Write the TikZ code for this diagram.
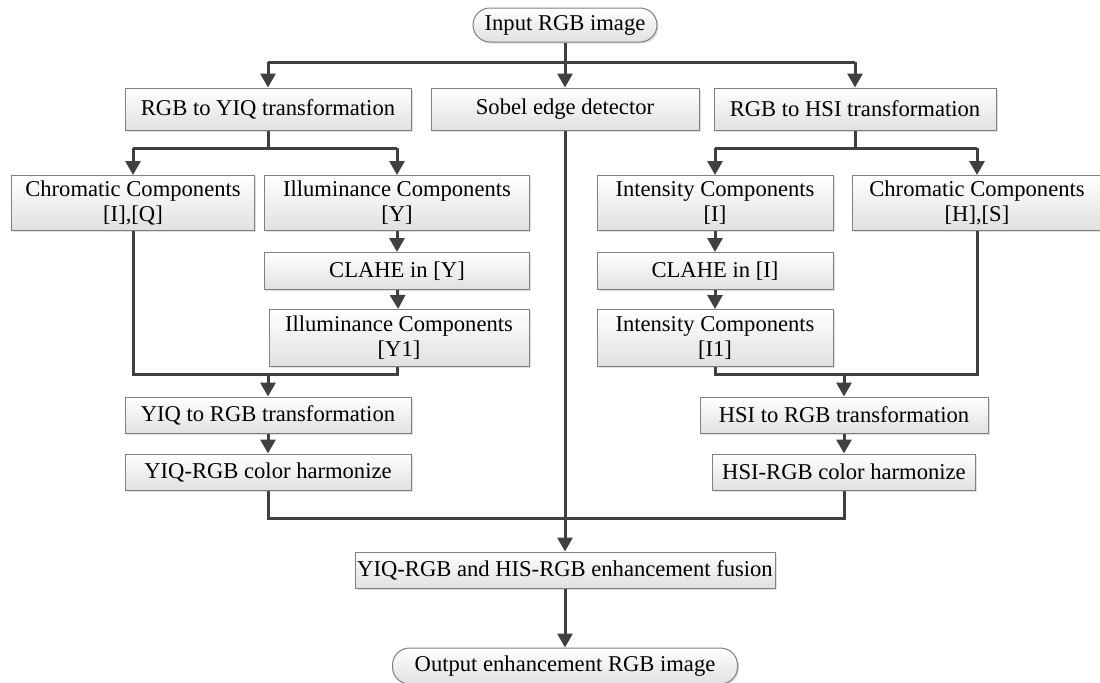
\documentclass[tikz,border=0pt]{standalone}
\usepackage{fontspec}
\setmainfont{Liberation Serif}
\usetikzlibrary{arrows.meta,shadows}
\definecolor{ln}{HTML}{404040}
\definecolor{bd}{HTML}{808080}
\tikzset{
  stepbox/.style={draw=bd, line width=0.5pt, top color=white, bottom color=black!12,
    inner sep=1pt, align=center, font=\fontsize{11.3}{12.5}\selectfont,
    drop shadow={shadow xshift=0.8pt, shadow yshift=-0.8pt, fill=black!25, opacity=0.5}},
  pill/.style={stepbox, rounded corners=8.5pt},
  conn/.style={draw=ln, line width=1.5pt},
  arr/.style={conn, -{Triangle[length=7pt,width=7.5pt]}},
}
\begin{document}
\begin{tikzpicture}[x=0.5pt,y=-0.5pt]
\useasboundingbox (0,0) rectangle (1100,682);
% nodes
\node[pill, minimum width=92pt, minimum height=17pt] (in) at (565,25) {Input RGB image};
\node[stepbox, minimum width=143pt, minimum height=21pt] (yiq) at (268,109) {RGB to YIQ transformation};
\node[stepbox, minimum width=134pt, minimum height=21pt] (sob) at (565,109) {Sobel edge detector};
\node[stepbox, minimum width=141pt, minimum height=21pt] (hsi) at (855,109) {RGB to HSI transformation};
\node[stepbox, minimum width=121.5pt, minimum height=27.5pt] (cq) at (133,203) {Chromatic Components\\{[I],[Q]}};
\node[stepbox, minimum width=132.5pt, minimum height=27.5pt] (iy) at (397,203) {Illuminance Components\\{[Y]}};
\node[stepbox, minimum width=132.5pt, minimum height=18.5pt] (cy) at (397,271) {CLAHE in [Y]};
\node[stepbox, minimum width=130pt, minimum height=28.5pt] (y1) at (399,338) {Illuminance Components\\{[Y1]}};
\node[stepbox, minimum width=143pt, minimum height=18pt] (yr) at (268,415) {YIQ to RGB transformation};
\node[stepbox, minimum width=143pt, minimum height=18pt] (yh) at (268,472) {YIQ-RGB color harmonize};
\node[stepbox, minimum width=118pt, minimum height=27.5pt] (ii) at (715,203) {Intensity Components\\{[I]}};
\node[stepbox, minimum width=125pt, minimum height=27.5pt] (hs) at (977,203) {Chromatic Components\\{[H],[S]}};
\node[stepbox, minimum width=118pt, minimum height=18.5pt] (ic) at (715,271) {CLAHE in [I]};
\node[stepbox, minimum width=118pt, minimum height=28.5pt] (i1) at (715,338) {Intensity Components\\{[I1]}};
\node[stepbox, minimum width=144pt, minimum height=18pt] (hr) at (844,415) {HSI to RGB transformation};
\node[stepbox, minimum width=131.5pt, minimum height=18pt] (hh) at (844,472) {HSI-RGB color harmonize};
\node[stepbox, minimum width=210pt, minimum height=18pt] (fu) at (565,570) {YIQ-RGB and HIS-RGB enhancement fusion};
\node[pill, minimum width=172.5pt, minimum height=18pt] (out) at (565,666) {Output enhancement RGB image};
% junction coordinates
\coordinate (t0) at (565,62);
\coordinate (tl) at (268,62);
\coordinate (tr) at (855,62);
\coordinate (l0) at (268,148);
\coordinate (ll) at (133,148);
\coordinate (lr) at (397,148);
\coordinate (r0) at (855,148);
\coordinate (rl) at (715,148);
\coordinate (rr) at (977,148);
\coordinate (lm) at (268,374);
\coordinate (la) at (133,374);
\coordinate (lb) at (397,374);
\coordinate (rm) at (844,374);
\coordinate (ra) at (715,374);
\coordinate (rb) at (977,374);
\coordinate (bm) at (565,518);
\coordinate (ba) at (268,518);
\coordinate (bb) at (844,518);
% connectors
\draw[conn] (in.south) -- (t0);
\draw[conn] (tl) -- (tr);
\draw[arr] (tl) -- (yiq.north);
\draw[arr] (t0) -- (sob.north);
\draw[arr] (tr) -- (hsi.north);
\draw[conn] (yiq.south) -- (l0);
\draw[conn] (ll) -- (lr);
\draw[arr] (ll) -- (cq.north);
\draw[arr] (lr) -- (iy.north);
\draw[arr] (iy) -- (cy);
\draw[arr] (cy) -- (y1);
\draw[conn] (cq.south) -- (la) -- (lb) -- (lb |- y1.south);
\draw[arr] (lm) -- (yr.north);
\draw[arr] (yr) -- (yh);
\draw[conn] (hsi.south) -- (r0);
\draw[conn] (rl) -- (rr);
\draw[arr] (rl) -- (ii.north);
\draw[arr] (rr) -- (hs.north);
\draw[arr] (ii) -- (ic);
\draw[arr] (ic) -- (i1);
\draw[conn] (i1.south) -- (ra) -- (rb) -- (hs.south);
\draw[arr] (rm) -- (hr.north);
\draw[arr] (hr) -- (hh);
\draw[conn] (yh.south) -- (ba) -- (bb) -- (hh.south);
\draw[arr] (sob.south) -- (fu.north);
\draw[arr] (fu) -- (out);
\end{tikzpicture}
\end{document}
